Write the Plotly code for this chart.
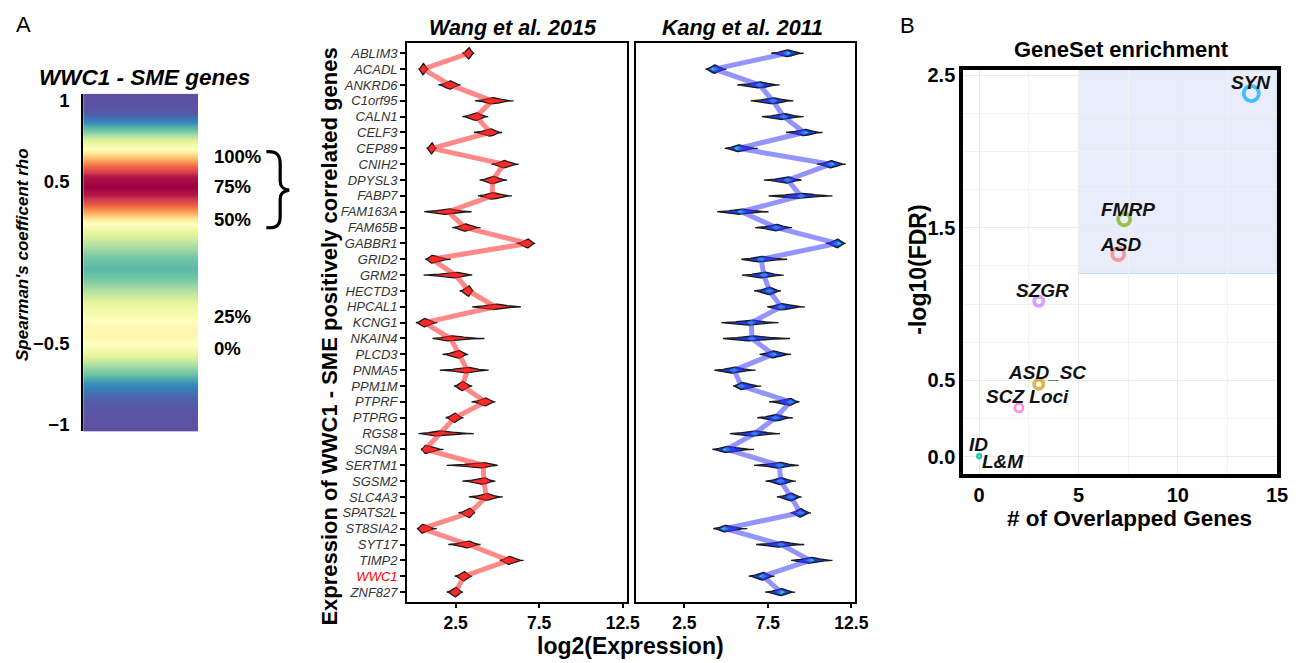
import numpy as np
import plotly.graph_objects as go

W, H = 1302, 663
FONT = "Liberation Sans"

# ---------------- Panel A (left): rho density strip ----------------
rho_grid = [1.04, 0.95, 0.91, 0.87, 0.81, 0.77, 0.70, 0.65, 0.59, 0.53, 0.47, 0.42,
            0.37, 0.31, 0.25, 0.18, 0.10, 0.03, -0.04, -0.10, -0.16, -0.24, -0.32,
            -0.39, -0.45, -0.50, -0.54, -0.60, -0.64, -0.70, -0.74, -0.80, -0.84,
            -0.92, -1.04]
rho_density = [0.0, 0.01, 0.03, 0.10, 0.22, 0.35, 0.50, 0.65, 0.82, 0.97, 1.0, 0.96,
               0.86, 0.70, 0.52, 0.40, 0.30, 0.22, 0.18, 0.22, 0.30, 0.40, 0.47,
               0.52, 0.53, 0.50, 0.45, 0.36, 0.28, 0.18, 0.12, 0.06, 0.03,
               0.01, 0.0]
quant_labels = ["100%", "75%", "50%", "25%", "0%"]
quant_rho = [0.65, 0.47, 0.265, -0.335, -0.53]
rho_ticks = [1, 0.5, -0.5, -1]
rho_ticktext = ["1", "0.5", "\u22120.5", "\u22121"]

# ---------------- Panel A (middle): expression violins ----------------
genes = ["ABLIM3", "ACADL", "ANKRD6", "C1orf95", "CALN1", "CELF3", "CEP89", "CNIH2",
         "DPYSL3", "FABP7", "FAM163A", "FAM65B", "GABBR1", "GRID2", "GRM2", "HECTD3",
         "HPCAL1", "KCNG1", "NKAIN4", "PLCD3", "PNMA5", "PPM1M", "PTPRF", "PTPRG",
         "RGS8", "SCN9A", "SERTM1", "SGSM2", "SLC4A3", "SPATS2L", "ST8SIA2", "SYT17",
         "TIMP2", "WWC1", "ZNF827"]
wang_center = [3.29, 0.55, 2.16, 4.68, 3.73, 4.58, 1.07, 5.38, 4.72, 4.68, 2.06, 3.05,
               6.83, 1.07, 2.50, 3.29, 4.88, 0.62, 2.20, 2.70, 3.20, 2.90, 4.29, 2.44,
               1.51, 0.68, 4.15, 4.19, 4.33, 3.35, 0.48, 3.25, 5.68, 3.00, 2.50]
wang_min = [2.90, 0.28, 1.47, 3.65, 2.90, 3.59, 0.76, 4.64, 3.93, 3.83, 0.62, 2.30,
            6.14, 0.68, 0.58, 2.74, 3.49, 0.12, 1.11, 1.71, 1.55, 2.40, 3.45, 1.90,
            0.28, 0.42, 1.96, 2.90, 3.29, 2.66, 0.18, 2.06, 5.14, 2.44, 1.96]
wang_max = [3.60, 0.87, 2.80, 5.97, 4.45, 5.28, 1.35, 6.27, 5.58, 5.87, 3.45, 3.99,
            7.26, 2.20, 3.49, 3.53, 6.41, 1.41, 4.22, 3.25, 4.48, 3.49, 4.88, 2.96,
            3.59, 1.77, 5.02, 4.88, 5.32, 3.65, 1.37, 3.99, 6.57, 3.49, 2.93]
kang_center = [8.65, 4.29, 7.00, 7.80, 8.45, 9.68, 5.71, 11.27, 8.69, 9.48, 5.91, 8.00,
               11.67, 7.10, 7.26, 7.60, 8.29, 6.51, 6.55, 7.80, 5.48, 5.91, 8.85, 7.96,
               6.71, 5.02, 8.20, 8.26, 8.89, 9.44, 4.92, 8.29, 10.04, 7.20, 8.29]
kang_min = [7.70, 3.77, 5.67, 6.47, 7.14, 8.59, 4.92, 10.43, 7.26, 7.54, 4.46, 6.74,
            10.97, 5.91, 5.95, 6.67, 7.46, 4.72, 4.82, 7.00, 4.29, 5.42, 7.56, 6.86,
            5.22, 4.17, 6.67, 7.36, 8.04, 8.85, 4.23, 6.80, 8.89, 6.35, 7.34]
kang_max = [9.64, 5.02, 8.20, 9.03, 9.64, 10.77, 6.90, 12.16, 9.52, 11.37, 7.54, 8.95,
            12.16, 8.65, 8.45, 8.29, 9.72, 8.14, 8.83, 8.89, 6.77, 7.10, 9.39, 8.99,
            8.23, 6.67, 9.35, 9.18, 9.52, 10.08, 6.27, 9.68, 11.37, 7.90, 9.13]
expr_ticks = [2.5, 7.5, 12.5]
expr_ticktext = ["2.5", "7.5", "12.5"]

# ---------------- Panel B: gene set enrichment ----------------
set_names = ["L&M", "ID", "SCZ Loci", "ASD_SC", "SZGR", "ASD", "FMRP", "SYN"]
set_overlap = [0, 0, 2, 3, 3, 7, 7.3, 13.7]
set_neglogfdr = [0.0, 0.006, 0.32, 0.475, 1.018, 1.327, 1.556, 2.38]
set_colors = ["#00BE67", "#00BFC4", "#FF61CC", "#CD9600", "#C77CFF", "#F8766D",
              "#7CAE00", "#00A9FF"]
label_shift = [(24, -5), (-1, 11), (9, 11), (8, 12), (4, 11), (2, 10), (4, 10), (0, 11)]
overlap_thresh = 5
fdr_thresh = 1.2
b_xticks = [0, 5, 10, 15]
b_yticks = [0, 0.5, 1.5, 2.5]
b_yticktext = ["0.0", "0.5", "1.5", "2.5"]


def pxx(x):
    return x / W


def pxy(y):
    return 1 - y / H


ROW_PX = (605 - 38) / 35.24


def violin_polys(centers, mins, maxs):
    xs_all, ys_all = [], []
    for i, (c, lo, hi) in enumerate(zip(centers, mins, maxs)):
        rng = hi - lo
        h = float(np.clip(4.8 / np.sqrt(rng), 2.6, 5.8)) / ROW_PX
        xs = np.linspace(lo, hi, 61)
        u = np.where(xs < c, (c - xs) / max(c - lo, 1e-6), (xs - c) / max(hi - c, 1e-6))
        t = h * (np.exp(-4 * u ** 2) - np.exp(-4)) / (1 - np.exp(-4))
        X = list(xs) + list(xs[::-1]) + [xs[0]]
        Y = list(i - t) + list((i + t)[::-1]) + [i - t[0]]
        xs_all += X + [None]
        ys_all += Y + [None]
    return xs_all, ys_all


fig = go.Figure()

# density strip
fig.add_trace(go.Heatmap(
    x=[0, 1], y=rho_grid, z=[[d, d] for d in rho_density],
    colorscale=[[0.0, "#5e4fa2"], [0.1, "#3288bd"], [0.2, "#66c2a5"], [0.3, "#abdda4"],
                [0.4, "#e6f598"], [0.5, "#ffffbf"], [0.6, "#fee08b"], [0.7, "#fdae61"],
                [0.8, "#f46d43"], [0.9, "#d53e4f"], [1.0, "#9e0142"]],
    zmin=0, zmax=1, zsmooth="best", showscale=False, hoverinfo="skip",
    xaxis="x", yaxis="y"))

idx = list(range(len(genes)))

# Wang violins
vx, vy = violin_polys(wang_center, wang_min, wang_max)
fig.add_trace(go.Scatter(x=vx, y=vy, mode="lines", fill="toself", fillcolor="#ff2a2a",
                         line=dict(color="#1a1a1a", width=1.3), hoverinfo="skip",
                         xaxis="x2", yaxis="y2", showlegend=False))
fig.add_trace(go.Scatter(x=wang_center, y=idx, mode="lines",
                         line=dict(color="rgba(255,40,40,0.55)", width=5),
                         xaxis="x2", yaxis="y2", showlegend=False))

# Kang violins
vx, vy = violin_polys(kang_center, kang_min, kang_max)
fig.add_trace(go.Scatter(x=vx, y=vy, mode="lines", fill="toself", fillcolor="#1e3ce6",
                         line=dict(color="#1a1a1a", width=1.3), hoverinfo="skip",
                         xaxis="x3", yaxis="y3", showlegend=False))
fig.add_trace(go.Scatter(x=kang_center, y=idx, mode="markers",
                         marker=dict(symbol="diamond-wide", size=6, color="#22d0d0"),
                         xaxis="x3", yaxis="y3", showlegend=False, hoverinfo="skip"))
fig.add_trace(go.Scatter(x=kang_center, y=idx, mode="lines",
                         line=dict(color="rgba(60,60,255,0.55)", width=5),
                         xaxis="x3", yaxis="y3", showlegend=False))

# Panel B points
sizes = [4 + 3 * np.sqrt(n) for n in set_overlap]
ring_w = [2.0 if n < 1 else (2.8 if n < 2.5 else 3.8) for n in set_overlap]
fig.add_trace(go.Scatter(
    x=set_overlap, y=set_neglogfdr, mode="markers",
    marker=dict(symbol="circle-open", size=sizes, color=set_colors,
                line=dict(width=ring_w, color=set_colors)),
    xaxis="x4", yaxis="y4", showlegend=False))

annotations = []


def ann(text, x, y, size, bold=True, italic=False, angle=0, xanchor="center",
        yanchor="middle", color="black"):
    annotations.append(dict(
        text=text, x=pxx(x), y=pxy(y), xref="paper", yref="paper", showarrow=False,
        xanchor=xanchor, yanchor=yanchor, textangle=angle,
        font=dict(family=FONT, size=size, color=color,
                  weight="bold" if bold else "normal",
                  style="italic" if italic else "normal")))


ann("A", 14, 19, 22, bold=False, xanchor="left")
ann("B", 907, 20, 22, bold=False, xanchor="left")
ann("WWC1 - SME genes", 146, 73, 22.5, italic=True)
ann("Spearman's coefficent rho", 22, 252, 17, italic=True, angle=-90)
ann("Wang et al. 2015", 518, 22, 21.5, italic=True)
ann("Kang et al. 2011", 750, 22, 21.5, italic=True)
ann("log2(Expression)", 637, 650, 23)
ann("Expression of WWC1 - SME positively correlated genes", 333, 336, 22, angle=-90)
ann("GeneSet enrichment", 1133, 44, 22)
ann("-log10(FDR)", 927, 268, 23, angle=-90)
ann("# of Overlapped Genes", 1141, 520, 22.5)

for lab, r in zip(quant_labels, quant_rho):
    annotations.append(dict(
        text=lab, x=pxx(214), y=r, xref="paper", yref="y", showarrow=False,
        xanchor="left", yanchor="middle",
        font=dict(family=FONT, size=18.5, color="black", weight="bold")))

for name, xv, yv, (dx, dy) in zip(set_names, set_overlap, set_neglogfdr, label_shift):
    annotations.append(dict(
        text=name, x=xv, y=yv, xref="x4", yref="y4", showarrow=False,
        xanchor="center", yanchor="middle", xshift=dx, yshift=dy,
        font=dict(family=FONT, size=19, color="#111111", weight="bold",
                  style="italic")))

# curly brace (decoration) in pixel space -> paper
brace_pts = [("M", 269, 148), ("C", 280, 147, 283, 152, 283, 160), ("L", 283, 178),
             ("C", 283, 184, 286, 186, 292, 187), ("C", 286, 188, 283, 190, 283, 196),
             ("L", 283, 214), ("C", 283, 222, 280, 226, 269, 225)]
path = ""
for seg in brace_pts:
    cmd, coords = seg[0], seg[1:]
    pairs = [f"{pxx(coords[k]):.5f},{pxy(coords[k + 1]):.5f}" for k in range(0, len(coords), 2)]
    path += cmd + " " + " ".join(pairs) + " "

shapes = [
    dict(type="path", path=path.strip(), xref="paper", yref="paper",
         line=dict(color="black", width=3.2)),
    dict(type="rect", xref="x4", yref="y4", x0=overlap_thresh, x1=15.0, y0=fdr_thresh,
         y1=2.534, fillcolor="rgba(110,135,230,0.16)",
         line=dict(color="rgba(135,206,235,0.55)", width=1), layer="below"),
]

gene_ticktext = [f"<span style='color:red'>{g}</span>" if g == "WWC1" else g for g in genes]

exp_axis = dict(range=[-0.42, 12.74], tickmode="array", tickvals=expr_ticks,
                ticktext=expr_ticktext, ticks="outside", ticklen=4, tickwidth=1.5,
                tickcolor="black", showline=True, mirror=True, linecolor="black",
                linewidth=1.5, showgrid=False, zeroline=False,
                tickfont=dict(family=FONT, size=17.5, color="black", weight="bold"))
gene_axis = dict(range=[34.62, -0.62], tickmode="array", tickvals=idx,
                 showline=True, mirror=True, linecolor="black", linewidth=1.5,
                 showgrid=False, zeroline=False, tickwidth=1.5, tickcolor="black")

fig.update_layout(
    width=W, height=H, margin=dict(l=0, r=0, t=0, b=0), autosize=False,
    paper_bgcolor="white", plot_bgcolor="white", showlegend=False,
    font=dict(family=FONT),
    xaxis=dict(domain=[pxx(84), pxx(200)], range=[0, 1], visible=False),
    yaxis=dict(domain=[pxy(432), pxy(89)], range=[-1.04, 1.04], tickmode="array",
               tickvals=rho_ticks, ticktext=rho_ticktext, ticks="", showline=True,
               linecolor="black", linewidth=2, showgrid=False, zeroline=False,
               ticklabelstandoff=8,
               tickfont=dict(family=FONT, size=18.5, color="black", weight="bold")),
    xaxis2=dict(domain=[pxx(411), pxx(633)], anchor="y2", **exp_axis),
    yaxis2=dict(domain=[pxy(605), pxy(38)], anchor="x2", ticktext=gene_ticktext,
                ticks="outside", ticklen=5,
                tickfont=dict(family=FONT, size=13, color="#333333", style="italic"),
                **gene_axis),
    xaxis3=dict(domain=[pxx(642), pxx(864)], anchor="y3", **exp_axis),
    yaxis3=dict(domain=[pxy(605), pxy(38)], anchor="x3", showticklabels=False,
                ticks="", **gene_axis),
    xaxis4=dict(domain=[pxx(973), pxx(1290)], anchor="y4", range=[-0.8, 15.0],
                tickmode="array", tickvals=b_xticks, ticks="", showline=True,
                mirror=True, linecolor="black", linewidth=4, showgrid=True,
                gridcolor="#ebebeb", gridwidth=1, zeroline=False,
                minor=dict(dtick=2.5, tick0=0, showgrid=True, gridcolor="#f2f2f2",
                           gridwidth=1, ticks=""),
                tickfont=dict(family=FONT, size=20, color="black", weight="bold")),
    yaxis4=dict(domain=[pxy(475), pxy(65)], anchor="x4", range=[-0.113, 2.534],
                tickmode="array", tickvals=b_yticks, ticktext=b_yticktext, ticks="",
                showline=True, mirror=True, linecolor="black", linewidth=4,
                showgrid=True, gridcolor="#ebebeb", gridwidth=1, zeroline=False,
                minor=dict(dtick=0.25, tick0=0, showgrid=True, gridcolor="#f2f2f2",
                           gridwidth=1, ticks=""),
                tickfont=dict(family=FONT, size=20, color="black", weight="bold")),
    annotations=annotations,
    shapes=shapes,
)

fig.write_html("out.html", config={"displayModeBar": False},
               post_script="document.body.style.margin='0';document.body.style.overflow='hidden';document.documentElement.style.overflow='hidden';")
